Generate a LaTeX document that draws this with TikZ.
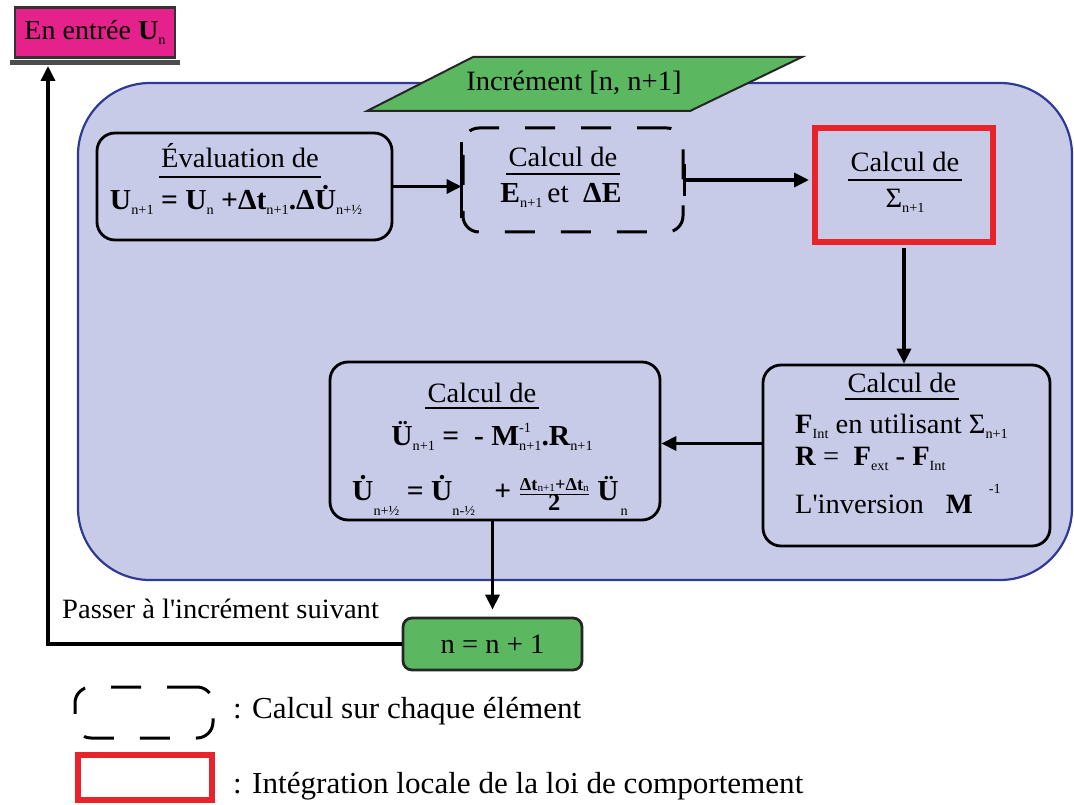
\documentclass[tikz,border=0pt]{standalone}
\usepackage{fontspec}
\setmainfont{Liberation Serif}[FakeStretch=1.02]
\usetikzlibrary{arrows.meta,calc}
\definecolor{lav}{HTML}{C8CBE8}
\definecolor{bordblue}{HTML}{2E3A94}
\definecolor{magentaA}{HTML}{E5218B}
\definecolor{greenA}{HTML}{5CB860}
\definecolor{redA}{HTML}{E8232A}
\newcommand{\mylo}[1]{\raisebox{-5pt}{\mdseries\fontsize{14}{14}\selectfont #1}}
\newcommand{\mytiny}[1]{\raisebox{-1.5pt}{\mdseries\fontsize{11}{11}\selectfont #1}}
\newcommand{\myhi}[1]{\raisebox{13pt}{\mdseries\fontsize{14}{14}\selectfont #1}}
\newcommand{\mysupsub}[2]{\makebox[0pt][l]{\myhi{#1}}\mylo{#2}}
\newcommand{\mylow}[1]{\raisebox{-15pt}{\mdseries\fontsize{14}{14}\selectfont #1}}
\begin{document}
\begin{tikzpicture}[x=1pt,y=-1pt,font=\fontsize{28}{32}\selectfont,
 box/.style={draw=black,line width=2.8pt,rounded corners=18pt,fill=lav,inner sep=0pt},
 dbox/.style={draw=black,line width=3pt,dash pattern=on 30pt off 26pt,rounded corners=16pt,inner sep=0pt},
 redbox/.style={draw=redA,line width=6pt,inner sep=0pt},
 arr/.style={line width=3.5pt,-{Triangle[length=15pt,width=14pt]}},
 uline/.style={line width=2.8pt},
 txt/.style={inner sep=0pt,anchor=base},
 txtl/.style={inner sep=0pt,anchor=base west},
 bf/.style={font=\fontsize{29}{32}\selectfont\bfseries},
 leg/.style={font=\fontsize{30.5}{34}\selectfont}]
\useasboundingbox (0,0) rectangle (1074,805);
\fill[white] (0,0) rectangle (1074,805);

% main frame
\node[draw=bordblue,line width=2.2pt,fill=lav,rounded corners=72pt,minimum width=994pt,minimum height=497pt,inner sep=0pt] (main) at (575,331.5) {};

% input box and bar
\node[draw=black!80,line width=2.5pt,fill=magentaA,minimum width=160pt,minimum height=50pt,inner sep=0pt,font=\fontsize{27.5}{30}\selectfont] (inbox) at (95,32.5) {En entrée \textbf{U}\mylo{n}};
\draw[line width=5pt,black!70] (10,63) -- (180,63);
\coordinate (barc) at (48,66);

% increment parallelogram
\filldraw[fill=greenA,draw=black!85,line width=2pt] (473,57) -- (802,57) -- (690,111) -- (367,111) -- cycle;
\node[txt] (inc) at (574,91) {Incrément [n, n+1]};

% boxes
\node[box,minimum width=295pt,minimum height=107pt] (eval) at (244.5,186.5) {};
\node[dbox,fill=lav,minimum width=220pt,minimum height=104pt] (dash) at (573,180) {};
\draw[line width=3pt] ($(dash.west)+(0,-38)$) -- ($(dash.west)+(0,38)$);
\draw[line width=3pt] ($(dash.east)+(0,-16)$) -- ($(dash.east)+(0,16)$);
\node[redbox,fill=lav,minimum width=178pt,minimum height=114pt] (red) at (904,185) {};
\node[box,minimum width=287pt,minimum height=181pt] (rbox) at (906.5,455.5) {};
\node[box,minimum width=330pt,minimum height=158pt] (lbox) at (495,441) {};
\node[draw=black!85,line width=2.8pt,rounded corners=9pt,fill=greenA,minimum width=179pt,minimum height=52pt,inner sep=0pt] (nbox) at (492.5,644) {n = n + 1};

% evaluation box text
\node[txt] (t1) at (240,168) {Évaluation de};
\draw[uline] ($(t1.base west)+(-2,9)$) -- ($(t1.base east)+(2,9)$);
\node[txt,bf] (e1) at (236,210) {U\mylo{n+1} = U\mylo{n} +Δt\mylo{n+1}.Δ\.{U}\mylo{n+½}};

% dashed box text
\node[txt] (t2) at (563,167) {Calcul de};
\draw[uline] ($(t2.base west)+(-2,7)$) -- ($(t2.base east)+(2,7)$);
\node[txt,bf] (e2) at (561,203) {E\mylo{n+1}\,\mdseries et\enspace \bfseries ΔE};

% red box text
\node[txt] (t3) at (905,172) {Calcul de};
\draw[uline] ($(t3.base west)+(-2,8)$) -- ($(t3.base east)+(2,8)$);
\node[txt] (e3) at (905,208) {Σ\mylo{n+1}};

% right box text
\node[txt] (t4) at (902,392) {Calcul de};
\draw[uline] ($(t4.base west)+(-2,7)$) -- ($(t4.base east)+(2,7)$);
\node[txtl] (r1) at (795,433) {\textbf{F}\mylo{Int} en utilisant Σ\mylo{n+1}};
\node[txtl] (r2) at (795,465) {\textbf{R} = \ \textbf{F}\mylo{ext} \textbf{-} \textbf{F}\mylo{Int}};
\node[txtl] (r3) at (795,513) {L\textquotesingle inversion\hspace{22pt}\textbf{M}\hspace{16pt}\raisebox{20pt}{\fontsize{14}{14}\selectfont -1}};

% left box text
\node[txt] (t5) at (482,402) {Calcul de};
\draw[uline] ($(t5.base west)+(-2,6)$) -- ($(t5.base east)+(2,6)$);
\node[txt,bf] (l1) at (492,445) {Ü\mylo{n+1} = \ - M\mysupsub{-1}{n+1}.R\mylo{n+1}};
\node[txt,bf] (l2) at (490,500) {\.{U}\mylow{n+½} = \.{U}\mylow{n-½}\hspace{12pt} + $\frac{\mbox{\fontsize{18}{18}\selectfont Δt\mytiny{n+1}+Δt\mytiny{n}}}{\mbox{\fontsize{24}{24}\selectfont 2}}$ Ü\hspace{2pt}\mylow{n}};

% text
\node[txtl] (pass) at (62,618) {Passer à l\textquotesingle incrément suivant};

% connectors
\draw[arr] (eval.east) -- (eval.east -| dash.west);
\draw[arr,shorten >=3pt] (dash.east) -- (dash.east -| red.west);
\draw[arr,shorten <=3pt] (red.south) -- (red.south |- rbox.north);
\draw[arr] ([yshift=12pt]rbox.west) -- ([yshift=12pt]rbox.west -| lbox.east);
\draw[arr,shorten >=7pt] (lbox.south -| nbox.north) -- (nbox.north);
\draw[arr] (nbox.west) -| (barc);

% legend
\node[dbox,fill=white,minimum width=138pt,minimum height=51pt] (ld) at (144,712.5) {};
\node[redbox,fill=white,minimum width=134pt,minimum height=45pt] (lr) at (145,777.5) {};
\node[txtl,leg] (lt1) at (233,718) {: Calcul sur chaque élément};
\node[txtl,leg] (lt2) at (233,793) {: Intégration locale de la loi de comportement};
\end{tikzpicture}
\end{document}
